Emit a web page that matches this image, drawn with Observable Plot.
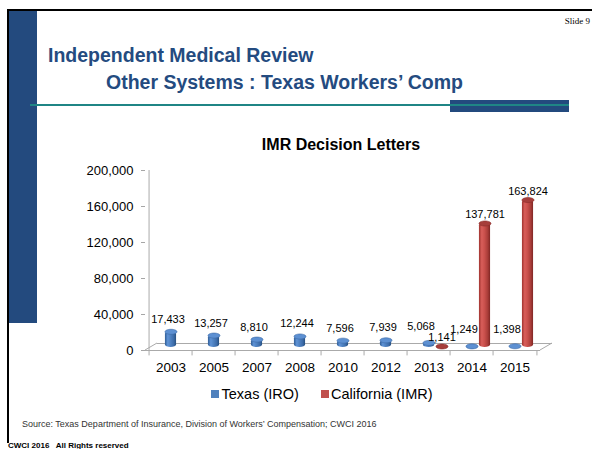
<!DOCTYPE html>
<html><head><meta charset="utf-8">
<script src="https://cdn.jsdelivr.net/npm/d3@7"></script>
<script src="https://cdn.jsdelivr.net/npm/@observablehq/plot@0.6"></script>
<style>
html,body{margin:0;padding:0;background:#fff;}
body{width:592px;height:449px;position:relative;overflow:hidden;font-family:"Liberation Sans",Arial,sans-serif;}
.abs{position:absolute;white-space:nowrap;line-height:1;}
#chart svg{display:block;}
[aria-label^="y-axis"] line,[aria-label^="y-axis"] path{stroke:#a6a6a6;}
[aria-label^="x-axis"] text{font-size:13.5px;}
</style></head><body>
<div id="chart" class="abs" style="left:0;top:0"></div>
<div class="abs" style="left:7px;top:9px;width:585px;height:2px;background:#000"></div>
<div class="abs" style="left:7px;top:9px;width:2px;height:434px;background:#000"></div>
<div class="abs" style="left:9px;top:11px;width:28px;height:312px;background:#234a7e"></div>
<div class="abs" style="left:450px;top:100px;width:119px;height:12px;background:#234a7e"></div>
<div class="abs" style="left:30px;top:104px;width:539px;height:1.5px;background:#1f8585"></div>
<div class="abs" style="right:2px;top:16.5px;font-family:'Liberation Serif','Times New Roman',serif;font-size:9px;color:#000">Slide 9</div>
<div class="abs" id="t1" style="left:48px;top:45.5px;font-size:19.5px;font-weight:bold;color:#244b80">Independent Medical Review</div>
<div class="abs" id="t2" style="left:106px;top:72.5px;font-size:19.5px;font-weight:bold;color:#244b80">Other Systems : Texas Workers’ Comp</div>
<div class="abs" style="left:241px;top:137.2px;width:200px;text-align:center;font-size:16px;font-weight:bold;color:#000">IMR Decision Letters</div>
<div class="abs" style="left:211px;top:390px;width:8px;height:8px;background:#4f81bd"></div>
<div class="abs" style="left:221.5px;top:387px;font-size:14.5px;color:#000" id="lg1"></div>
<div class="abs" style="left:321px;top:390px;width:8px;height:8px;background:#c0504d"></div>
<div class="abs" style="left:331px;top:387px;font-size:14.5px;color:#000" id="lg2"></div>
<div class="abs" style="left:22px;top:419.6px;font-size:9px;color:#333">Source: Texas Department of Insurance, Division of Workers’ Compensation; CWCI 2016</div>
<div class="abs" style="left:8px;top:442px;font-size:8px;font-weight:bold;color:#000">CWCI 2016 &nbsp; All Rights reserved</div>
<script>
const years = ["2003","2005","2007","2008","2010","2012","2013","2014","2015"];
const texas = [17433,13257,8810,12244,7596,7939,5068,1249,1398];
const california = [null,null,null,null,null,null,1141,137781,163824];
const yTicks = [0,40000,80000,120000,160000,200000];
const seriesNames = ["Texas (IRO)","California (IMR)"];

document.getElementById("lg1").textContent = seriesNames[0];
document.getElementById("lg2").textContent = seriesNames[1];

const texasRows = years.map((y,i)=>({year:y, value:texas[i], paired: california[i]!=null}));
const caRows = years.map((y,i)=>({year:y, value:california[i]})).filter(d=>d.value!=null);

const W=592, H=449, mL=145, mR=52, mT=170, mB=99;
const band = (W-mL-mR)/years.length;
const fmt = d3.format(",");

const ellipse = {draw(ctx,size){
  const rx=Math.sqrt(size/Math.PI), ry=rx*0.42, c=0.5523;
  ctx.moveTo(rx,0);
  ctx.bezierCurveTo(rx,ry*c,rx*c,ry,0,ry);
  ctx.bezierCurveTo(-rx*c,ry,-rx,ry*c,-rx,0);
  ctx.bezierCurveTo(-rx,-ry*c,-rx*c,-ry,0,-ry);
  ctx.bezierCurveTo(rx*c,-ry,rx,-ry*c,rx,0);
  ctx.closePath();
}};

const plot = Plot.plot({
  width:W, height:H, marginLeft:mL, marginRight:mR, marginTop:mT, marginBottom:mB,
  style:{fontSize:"13px", fontFamily:"'Liberation Sans', Arial, sans-serif", color:"#000", background:"transparent"},
  x:{type:"band", domain:years, padding:0, tickSize:0, tickPadding:12, label:null},
  y:{domain:[0,200000], ticks:yTicks, tickFormat:fmt, tickSize:4, tickPadding:8, label:null},
  marks:[
    Plot.ruleY([0], {stroke:"#aaa"}),
    Plot.ruleY([0], {stroke:"#aaa", dx:12, dy:-7}),
    Plot.ruleX([years[0]], {dx:-band/2, y1:0, y2:200000, stroke:"#aaa"}),
    Plot.ruleX(years, {x:d=>d, dx:-band/2, y1:0, y2:-6000, stroke:"#aaa"}),
    Plot.ruleX([years[years.length-1]], {dx:band/2, y1:0, y2:-6000, stroke:"#aaa"}),
    Plot.barY(texasRows, {x:"year", y:"value", fill:"#4f81bd", insetLeft:band/2-6, insetRight:band/2-6, dy:-3, rx:6, ry:2.5}),
    Plot.dot(texasRows, {x:"year", y:"value", r:6, symbol:ellipse, fill:"#5d90d2", stroke:"#3c6aa6", strokeWidth:0.6, dy:-3}),
    Plot.barY(caRows, {x:"year", y:"value", fill:"#c0504d", insetLeft:band/2+7, insetRight:band/2-19, dy:-3, rx:6, ry:2.5}),
    Plot.dot(caRows, {x:"year", y:"value", r:6, symbol:ellipse, fill:"#a63e3b", stroke:"#8a2c2a", strokeWidth:0.6, dx:13, dy:-3}),
    Plot.text(texasRows.filter(d=>!d.paired), {x:"year", y:"value", text:d=>fmt(d.value), lineAnchor:"bottom", dx:-3, dy:-12, fontSize:11, fill:"#000"}),
    Plot.text(texasRows.filter(d=>d.paired), {x:"year", y:"value", text:d=>fmt(d.value), lineAnchor:"bottom", dx:-8, dy:-16, fontSize:11, fill:"#000"}),
    Plot.text(caRows, {x:"year", y:"value", text:d=>fmt(d.value), lineAnchor:"bottom", dx:13, dy:-8, fontSize:11, fill:"#000"})
  ]
});
document.getElementById("chart").appendChild(plot);

// cylinder shading gradients + floor diagonals
const svg = d3.select(plot);
const defs = svg.insert("defs", ":first-child");
function grad(id, stops){
  const g = defs.append("linearGradient").attr("id", id).attr("x1","0").attr("x2","1").attr("y1","0").attr("y2","0");
  stops.forEach(([o,c])=>g.append("stop").attr("offset",o).attr("stop-color",c));
}
grad("gBlue", [[0,"#2f5d95"],[0.25,"#5f93d6"],[0.5,"#4f82c2"],[0.8,"#3c6ba8"],[1,"#27507f"]]);
grad("gRed", [[0,"#a0332f"],[0.25,"#d85e5a"],[0.5,"#c9504c"],[0.8,"#a83c38"],[1,"#7f2624"]]);
svg.selectAll('rect[fill="#4f81bd"]').attr("fill","url(#gBlue)");
svg.selectAll('rect[fill="#c0504d"]').attr("fill","url(#gRed)");
svg.selectAll('g[fill="#4f81bd"]').attr("fill","url(#gBlue)");
svg.selectAll('g[fill="#c0504d"]').attr("fill","url(#gRed)");
const xs = plot.scale("x").range, y0 = plot.scale("y").apply(0);
const fl = svg.insert("g", 'g[aria-label="bar"]').attr("stroke","#aaa").attr("fill","none");
fl.append("line").attr("x1",xs[0]).attr("y1",y0).attr("x2",xs[0]+12).attr("y2",y0-7);
fl.append("line").attr("x1",xs[1]).attr("y1",y0).attr("x2",xs[1]+12).attr("y2",y0-7);
</script>
</body></html>
